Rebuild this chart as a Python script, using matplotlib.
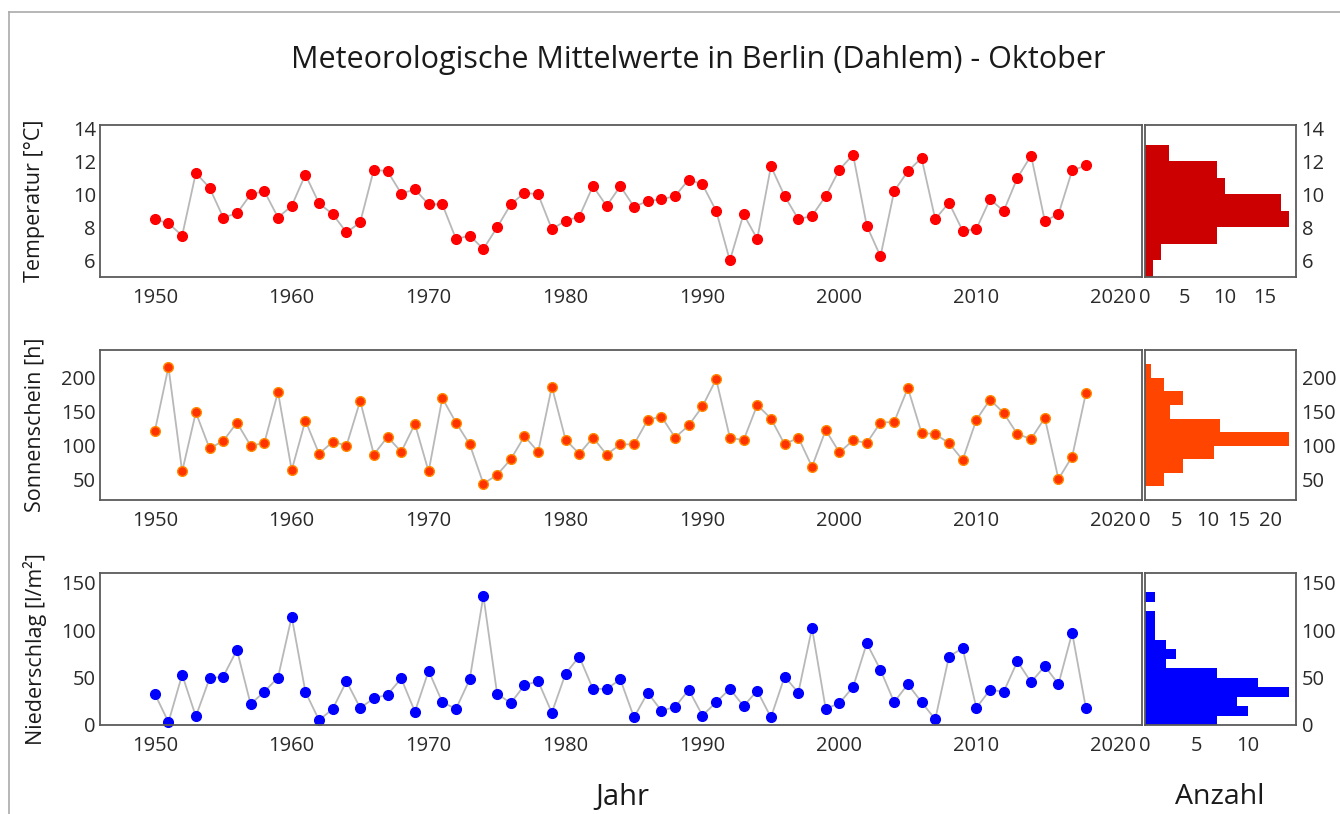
import matplotlib
matplotlib.use("Agg")
import matplotlib.pyplot as plt
import numpy as np

plt.rcParams['font.family'] = ['Open Sans', 'DejaVu Sans']

years = list(range(1950, 2019))

temperature = [8.5, 8.25, 7.5, 11.3, 10.4, 8.6, 8.85, 10.0, 10.2, 8.6,
               9.3, 11.2, 9.45, 8.8, 7.7, 8.3, 11.5, 11.4, 10.05, 10.3,
               9.4, 9.4, 7.3, 7.5, 6.7, 8.0, 9.4, 10.1, 10.0, 7.9,
               8.4, 8.65, 10.5, 9.3, 10.5, 9.25, 9.6, 9.7, 9.9, 10.9,
               10.6, 9.0, 6.0, 8.8, 7.3, 11.7, 9.9, 8.5, 8.7, 9.9,
               11.5, 12.4, 8.1, 6.25, 10.2, 11.4, 12.2, 8.5, 9.5, 7.8,
               7.9, 9.7, 9.0, 11.0, 12.35, 8.4, 8.8, 11.45, 11.75]

sunshine = [121, 216, 62, 149, 96, 107, 134, 100, 104, 179,
            64, 137, 88, 106, 100, 166, 87, 113, 91, 132,
            62, 170, 134, 102, 44, 57, 80, 114, 91, 187,
            109, 88, 112, 87, 102, 102, 138, 143, 112, 130,
            158, 198, 112, 108, 160, 140, 102, 112, 69, 123,
            90, 108, 104, 134, 135, 185, 119, 117, 104, 79,
            138, 168, 148, 117, 110, 141, 51, 84, 177]

precipitation = [33, 3, 53, 9, 49, 51, 79, 22, 35, 50,
                 114, 35, 5, 17, 46, 18, 28, 32, 49, 14,
                 57, 24, 17, 48, 136, 33, 23, 42, 46, 13,
                 54, 72, 38, 38, 48, 8, 34, 15, 19, 37,
                 10, 24, 38, 20, 36, 8, 51, 34, 102, 17,
                 23, 40, 86, 58, 24, 43, 24, 6, 72, 81,
                 18, 37, 35, 67, 45, 62, 43, 97, 18]

# histogram bins (lower edges) and counts
temp_bins = [5, 6, 7, 8, 9, 10, 11, 12]
temp_counts = [1, 2, 9, 18, 17, 10, 9, 3]
temp_binwidth = 1

sun_bins = [40, 60, 80, 100, 120, 140, 160, 180, 200]
sun_counts = [3, 6, 11, 23, 12, 4, 6, 3, 1]
sun_binwidth = 20

prec_bins = [0, 10, 20, 30, 40, 50, 60, 70, 80, 90, 100, 110, 120, 130]
prec_counts = [7, 10, 9, 14, 11, 7, 2, 3, 2, 1, 1, 1, 0, 1]
prec_binwidth = 10

W, H = 1340, 814
fig = plt.figure(figsize=(W / 100, H / 100), dpi=100)

def fx(px):
    return px / W

def fy(py):
    return 1 - py / H

panels = [
    dict(vals=temperature, top=125, bot=277, ylim=(5.0, 14.2), yticks=[6, 8, 10, 12, 14],
         mface='#ff0000', medge='#ff0000', hcolor='#cc0000',
         bins=temp_bins, counts=temp_counts, bw=temp_binwidth, hxticks=[0, 5, 10, 15],
         label='Temperatur [°C]'),
    dict(vals=sunshine, top=350, bot=500, ylim=(20, 241), yticks=[50, 100, 150, 200],
         mface='#ff3300', medge='#ff8c00', hcolor='#ff4500',
         bins=sun_bins, counts=sun_counts, bw=sun_binwidth, hxticks=[0, 5, 10, 15, 20],
         label='Sonnenschein [h]'),
    dict(vals=precipitation, top=573, bot=725, ylim=(0, 160), yticks=[0, 50, 100, 150],
         mface='#0000ff', medge='#0000ff', hcolor='#0000ff',
         bins=prec_bins, counts=prec_counts, bw=prec_binwidth, hxticks=[0, 5, 10],
         label='Niederschlag [l/m²]'),
]

spine_c = '#5a5a5a'
tick_c = '#2a2a2a'
tfs = 14.5

for p in panels:
    ax = fig.add_axes([fx(100), fy(p['bot']), fx(1142 - 100), (p['bot'] - p['top']) / H])
    ax.plot(years, p['vals'], color='#b8b8b8', lw=1.3, zorder=1)
    ax.plot(years, p['vals'], ls='none', marker='o', ms=7, mfc=p['mface'],
            mec=p['medge'], mew=1.0, zorder=2, clip_on=False)
    ax.set_xlim(1946, 2022.1)
    ax.set_ylim(*p['ylim'])
    ax.set_xticks([1950, 1960, 1970, 1980, 1990, 2000, 2010, 2020])
    ax.set_yticks(p['yticks'])
    ax.tick_params(length=0, labelsize=tfs, colors=tick_c)
    ax.tick_params(axis='x', pad=8)
    ax.tick_params(axis='y', pad=3)
    for s in ax.spines.values():
        s.set_color(spine_c)
        s.set_linewidth(1.3)
    fig.text(fx(35), fy((p['top'] + p['bot']) / 2), p['label'], rotation=90,
             ha='center', va='center', fontsize=15.5, color='#1a1a1a')

    hx = fig.add_axes([fx(1145), fy(p['bot']), fx(1296 - 1145), (p['bot'] - p['top']) / H])
    hx.barh(p['bins'], p['counts'], height=p['bw'], align='edge', color=p['hcolor'],
            edgecolor='none')
    hx.set_xlim(0, max(p['counts']) * 1.05)
    hx.set_ylim(*p['ylim'])
    hx.set_xticks(p['hxticks'])
    hx.set_yticks(p['yticks'])
    hx.yaxis.tick_right()
    hx.tick_params(length=0, labelsize=tfs, colors=tick_c)
    hx.tick_params(axis='x', pad=8)
    hx.tick_params(axis='y', pad=4)
    for s in hx.spines.values():
        s.set_color(spine_c)
        s.set_linewidth(1.3)

fig.text(fx(698), fy(60), 'Meteorologische Mittelwerte in Berlin (Dahlem) - Oktober',
         ha='center', va='center', fontsize=22, color='#1a1a1a')
fig.text(fx(622), fy(797), 'Jahr', ha='center', va='center', fontsize=21, color='#1a1a1a')
fig.text(fx(1220), fy(797), 'Anzahl', ha='center', va='center', fontsize=20.5, color='#1a1a1a')

# thin frame of the screenshot
fig.add_artist(plt.Line2D([fx(9), 1], [fy(12), fy(12)], color='#aaaaaa', lw=1.2,
                          transform=fig.transFigure))
fig.add_artist(plt.Line2D([fx(9), fx(9)], [0, fy(12)], color='#aaaaaa', lw=1.2,
                          transform=fig.transFigure))

fig.savefig('out.png', dpi=100)
